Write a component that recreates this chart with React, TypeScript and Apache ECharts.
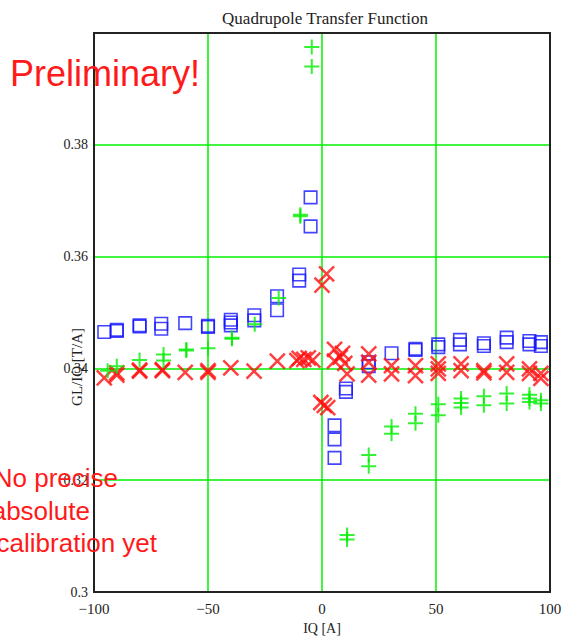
import React, { useEffect, useRef } from "react";
import * as echarts from "echarts";

const title = "Quadrupole Transfer Function";
const xName = "IQ [A]";
const yName = "GL/IQ [T/A]";

// Blue squares
const blueIQ = [-95.5, -90, -90, -80, -80, -70.5, -70.5, -60, -50, -50, -40, -40, -40, -29.7, -29.7, -19.7, -19.7, -10, -10, -5, -5, 5.5, 5.5, 5.5, 10.5, 10.5, 20.5, 20.5, 30.5, 41, 41, 51, 51, 60.5, 60.5, 71, 71, 81, 81, 91, 91, 96, 96];
const blueGL = [0.3465, 0.3467, 0.3469, 0.3475, 0.3477, 0.3480, 0.3471, 0.3481, 0.3476, 0.3474, 0.3487, 0.3482, 0.3477, 0.3495, 0.3486, 0.3529, 0.3504, 0.3568, 0.3557, 0.3706, 0.3654, 0.3298, 0.3273, 0.3240, 0.3364, 0.3358, 0.3411, 0.3404, 0.3427, 0.3435, 0.3433, 0.3443, 0.3438, 0.3451, 0.3443, 0.3445, 0.3440, 0.3455, 0.3447, 0.3449, 0.3443, 0.3447, 0.3440];

// Red crosses
const redIQ = [-95.5, -90, -90, -80, -80, -70, -70, -60, -50, -50, -40, -29.8, -19.6, -11, -10, -8, -6, -4, 2, 0, -0.5, 1, 2.5, 5.5, 9, 5.5, 10, 11, 8, 20.5, 20.5, 20.5, 30.5, 30.5, 41, 41, 51, 51, 51, 61, 61, 71, 71, 81, 81, 91, 91, 96, 96];
const redGL = [0.3383, 0.3392, 0.3388, 0.3395, 0.3397, 0.3396, 0.3398, 0.3393, 0.3393, 0.3396, 0.3401, 0.3395, 0.3413, 0.3414, 0.3418, 0.3416, 0.3419, 0.3415, 0.3569, 0.3549, 0.3339, 0.3334, 0.3330, 0.3434, 0.3427, 0.3413, 0.3409, 0.3390, 0.3420, 0.3426, 0.3411, 0.3388, 0.3405, 0.3390, 0.3405, 0.3387, 0.3408, 0.3399, 0.3391, 0.3408, 0.3396, 0.3396, 0.3392, 0.3408, 0.3393, 0.3399, 0.3391, 0.3391, 0.3382];

// Green pluses
const greenIQ = [-94, -90, -80, -69.5, -69.5, -59.5, -59.5, -50, -39.5, -39.5, -29.5, -19, -9.5, -9.5, -4.5, -4.5, 11, 11, 20.5, 20.5, 30.5, 30.5, 41, 41, 51, 51, 61, 61, 61, 71, 71, 81, 81, 91, 91, 91, 96, 96];
const greenGL = [0.3396, 0.3404, 0.3415, 0.3425, 0.3414, 0.3432, 0.3434, 0.3436, 0.3453, 0.3455, 0.3479, 0.3526, 0.3675, 0.3672, 0.3975, 0.3940, 0.3102, 0.3094, 0.3245, 0.3225, 0.3296, 0.3283, 0.3319, 0.3302, 0.3336, 0.3316, 0.3346, 0.3338, 0.3330, 0.3350, 0.3334, 0.3355, 0.3337, 0.3353, 0.3346, 0.3340, 0.3343, 0.3337];

const xMin = -100, xMax = 100, xStep = 50;
const yMin = 0.3, yMax = 0.4, yStep = 0.02;

const noteMain = "Preliminary!";
const noteLines = ["No precise", "absolute", "calibration yet"];

const pairs = (xs: number[], ys: number[]) => xs.map((x, i) => [x, ys[i]]);

export default function App() {
  const ref = useRef<HTMLDivElement>(null);
  useEffect(() => {
    document.body.style.margin = "0";
    const chart = echarts.init(ref.current!, null, { renderer: "svg" });
    const serif = "'Liberation Serif', 'Times New Roman', serif";
    const sans = "'Liberation Sans', Arial, sans-serif";
    const G = { left: 94, top: 33, right: 16, bottom: 44 };
    chart.setOption({
      animation: false,
      backgroundColor: "#ffffff",
      title: {
        text: title,
        left: 320,
        top: 5,
        textAlign: "center",
        textStyle: { fontFamily: serif, fontSize: 17, fontWeight: "normal", color: "#222" },
      },
      grid: { left: G.left, right: G.right, top: G.top, bottom: G.bottom, outerBoundsMode: "none", containLabel: false },
      xAxis: {
        type: "value",
        min: xMin,
        max: xMax,
        interval: xStep,
        name: xName,
        nameLocation: "middle",
        nameGap: 29,
        nameTextStyle: { fontFamily: serif, fontSize: 14, color: "#222" },
        axisLine: { show: true, onZero: false, lineStyle: { color: "#111", width: 2 } },
        axisTick: { show: false },
        axisLabel: {
          fontFamily: serif,
          fontSize: 15,
          color: "#222",
          margin: 9,
          formatter: (v: number) => (v < 0 ? "\u2212" + Math.abs(v) : String(v)),
        },
        splitLine: { show: true, lineStyle: { color: "#00f000", width: 1.5 } },
      },
      yAxis: {
        type: "value",
        min: yMin,
        max: yMax,
        interval: yStep,
        axisLine: { show: true, onZero: false, lineStyle: { color: "#111", width: 2 } },
        axisTick: { show: false },
        axisLabel: {
          fontFamily: serif,
          fontSize: 14,
          color: "#222",
          margin: 6,
          verticalAlignMinLabel: "middle",
          verticalAlignMaxLabel: "middle",
          formatter: (v: number) => (v > 0.399 ? "" : String(+v.toFixed(2))),
        },
        splitLine: { show: true, lineStyle: { color: "#00f000", width: 1.5 } },
      },
      graphic: [
        {
          type: "rect",
          z: 50,
          silent: true,
          shape: { x: G.left, y: G.top, width: 566 - G.left - G.right, height: 636 - G.top - G.bottom },
          style: { fill: "none", stroke: "#222", lineWidth: 2 },
        },
        {
          type: "text",
          x: 77,
          y: 367,
          rotation: Math.PI / 2,
          style: {
            text: yName,
            font: `15px ${serif}`,
            fill: "#222",
            align: "center",
            verticalAlign: "middle",
          },
        },
        {
          type: "text",
          x: 10,
          y: 73,
          z: 100,
          style: { text: noteMain, font: `36px ${sans}`, fill: "#ff1a1a", align: "left", verticalAlign: "middle" },
        },
        ...noteLines.map((t, i) => ({
          type: "text",
          x: [118, 90, 157][i],
          y: 478 + i * 32.5,
          z: 100,
          style: { text: t, font: `26px ${sans}`, fill: "#ff1a1a", align: "right", verticalAlign: "middle" },
        })),
      ],
      series: [
        {
          type: "scatter",
          data: pairs(blueIQ, blueGL),
          symbol: "rect",
          symbolSize: 12.5,
          itemStyle: { color: "rgba(0,0,0,0)", borderColor: "#1515ff", borderWidth: 1.6 },
          z: 2,
        },
        {
          type: "scatter",
          data: pairs(redIQ, redGL),
          symbol: "path://M0 0L10 10M10 0L0 10",
          symbolSize: 15,
          itemStyle: { color: "rgba(0,0,0,0)", borderColor: "#ff1010", borderWidth: 2.5 },
          z: 3,
        },
        {
          type: "scatter",
          data: pairs(greenIQ, greenGL),
          symbol: "path://M5 0L5 10M0 5L10 5",
          symbolSize: 15,
          itemStyle: { color: "rgba(0,0,0,0)", borderColor: "#00ee00", borderWidth: 2 },
          z: 4,
        },
      ],
    });
    return () => chart.dispose();
  }, []);
  return <div ref={ref} style={{ width: 566, height: 636 }} />;
}
